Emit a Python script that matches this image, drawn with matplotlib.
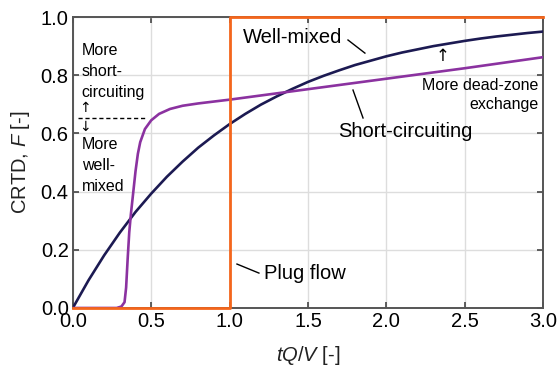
import matplotlib
matplotlib.use('Agg')
import matplotlib.pyplot as plt

plt.rcParams['font.family'] = ['Liberation Sans', 'DejaVu Sans']
plt.rcParams['mathtext.fontset'] = 'custom'
plt.rcParams['mathtext.rm'] = 'Liberation Sans'
plt.rcParams['mathtext.it'] = 'Liberation Sans:italic'

# ------------------------------------------------------------------------------
# Data
# ------------------------------------------------------------------------------
t_mixed = [0.0, 0.1, 0.2, 0.3, 0.4, 0.5, 0.6, 0.7, 0.8, 0.9, 1.0,
           1.1, 1.2, 1.3, 1.4, 1.5, 1.6, 1.7, 1.8, 1.9, 2.0,
           2.1, 2.2, 2.3, 2.4, 2.5, 2.6, 2.7, 2.8, 2.9, 3.0]
F_mixed = [0.000, 0.095, 0.181, 0.259, 0.330, 0.393, 0.451, 0.503, 0.551, 0.593, 0.632,
           0.667, 0.699, 0.727, 0.753, 0.777, 0.798, 0.817, 0.835, 0.850, 0.865,
           0.878, 0.889, 0.900, 0.909, 0.918, 0.926, 0.933, 0.939, 0.945, 0.950]

t_short = [0.0, 0.28, 0.31, 0.33, 0.34, 0.35, 0.36, 0.37, 0.38, 0.39, 0.40,
           0.415, 0.43, 0.46, 0.50, 0.55, 0.62, 0.70, 0.80, 1.0, 1.5, 2.0, 2.5, 3.0]
F_short = [0.0, 0.0, 0.005, 0.02, 0.07, 0.17, 0.26, 0.32, 0.37, 0.42, 0.47,
           0.53, 0.57, 0.615, 0.645, 0.667, 0.684, 0.695, 0.703, 0.716, 0.752, 0.788, 0.824, 0.862]

t_plug = [0.0, 1.0, 1.0, 3.0]
F_plug = [0.0, 0.0, 1.0, 1.0]

x_ticks = [0.0, 0.5, 1.0, 1.5, 2.0, 2.5, 3.0]
y_ticks = [0.0, 0.2, 0.4, 0.6, 0.8, 1.0]

c_mixed = '#1c1a52'
c_short = '#8b32a0'
c_plug = '#f4661c'

# ------------------------------------------------------------------------------
# Plot
# ------------------------------------------------------------------------------
fig = plt.figure(figsize=(5.6, 3.74), dpi=100)
ax = fig.add_axes([0.130, 0.1765, 0.840, 0.778])

ax.plot(t_mixed, F_mixed, color=c_mixed, lw=1.9, zorder=3)
ax.plot(t_short, F_short, color=c_short, lw=1.9, zorder=3)
ax.plot(t_plug, F_plug, color=c_plug, lw=2.0, zorder=4, clip_on=False)

ax.set_xlim(0, 3)
ax.set_ylim(0, 1)
ax.set_xticks(x_ticks)
ax.set_yticks(y_ticks)
ax.set_xticklabels([f'{v:.1f}' for v in x_ticks])
ax.set_yticklabels([f'{v:.1f}' for v in y_ticks])
ax.grid(True, color='#dddddd', lw=1.0, zorder=0)
ax.set_axisbelow(True)
ax.tick_params(direction='in', length=4, width=1.2, color='#444444',
               top=True, right=True, labelsize=14.5, pad=3)
for s in ax.spines.values():
    s.set_color('#555555')
    s.set_linewidth(1.4)

ax.set_xlabel('$tQ/V$ [-]', fontsize=14.5, color='#222222', labelpad=9)
ax.set_ylabel('CRTD, $F$ [-]', fontsize=14.5, color='#222222', labelpad=6)

# --- curve labels ---
ax.text(1.40, 0.930, 'Well-mixed', fontsize=14.5, ha='center', va='center')
ax.plot([1.755, 1.863], [0.921, 0.876], color='black', lw=1.0)

ax.text(2.12, 0.606, 'Short-circuiting', fontsize=14.5, ha='center', va='center')
ax.plot([1.787, 1.851], [0.749, 0.653], color='black', lw=1.0)

ax.text(1.22, 0.118, 'Plug flow', fontsize=14.5, ha='left', va='center')
ax.plot([1.047, 1.187], [0.151, 0.120], color='black', lw=1.0)

# --- small annotations ---
ax.text(2.36, 0.866, '\u2191', fontsize=12, ha='center', va='center',
        family=['DejaVu Sans'])
ax.text(2.97, 0.766, 'More dead-zone', fontsize=11.5, ha='right', va='center')
ax.text(2.97, 0.698, 'exchange', fontsize=11.5, ha='right', va='center')

ax.plot([0.032, 0.466], [0.654, 0.654], color='black', lw=1.0, ls=(0, (3, 2)))
ax.text(0.056, 0.812, 'More\nshort-\ncircuiting', fontsize=11.5, ha='left',
        va='center', linespacing=1.5)
ax.text(0.075, 0.687, '\u2191', fontsize=10, ha='center', va='center',
        family=['DejaVu Sans'])
ax.text(0.075, 0.622, '\u2193', fontsize=10, ha='center', va='center',
        family=['DejaVu Sans'])
ax.text(0.056, 0.491, 'More\nwell-\nmixed', fontsize=11.5, ha='left',
        va='center', linespacing=1.5)

fig.savefig('out.png', dpi=100)
